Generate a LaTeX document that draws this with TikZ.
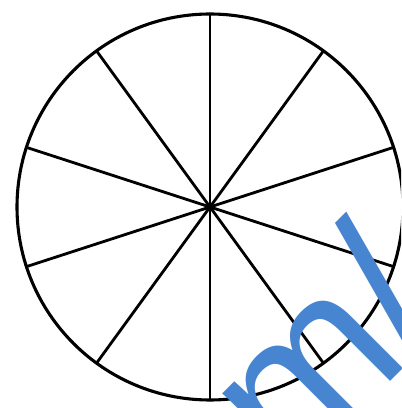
\documentclass[tikz,border=0pt]{standalone}
\usepackage{fontspec}
\newfontfamily\markfont{Liberation Sans}
\usetikzlibrary{calc}
\definecolor{markblue}{RGB}{72,133,209}

\begin{document}
\begin{tikzpicture}[
  x=0.25mm, y=0.25mm,
  rim/.style={draw, line width=2.2pt},
  spoke/.style={line width=2pt},
  hub/.style={circle, fill, inner sep=0pt, minimum size=2.2mm},
  wmtext/.style={text=markblue, font=\markfont\fontsize{148}{148}\selectfont,
               rotate=45, anchor=base west, inner sep=0pt}]
\useasboundingbox (0,0) rectangle (401,408);
\begin{scope}
\clip (0,0) rectangle (401,408);
\coordinate (O) at (210,201);
\node[hub] (centre) at (O) {};
\draw[rim] (O) circle (193);
\foreach \k in {0,...,4}{
  \coordinate (a\k) at ($(O)+(90+36*\k:193)$);
  \coordinate (b\k) at ($(O)+(270+36*\k:193)$);
  \draw[spoke] (a\k) -- (b\k);
}
\node[wmtext] (wm) at (290,-74) {m/};
\end{scope}
\end{tikzpicture}
\end{document}
